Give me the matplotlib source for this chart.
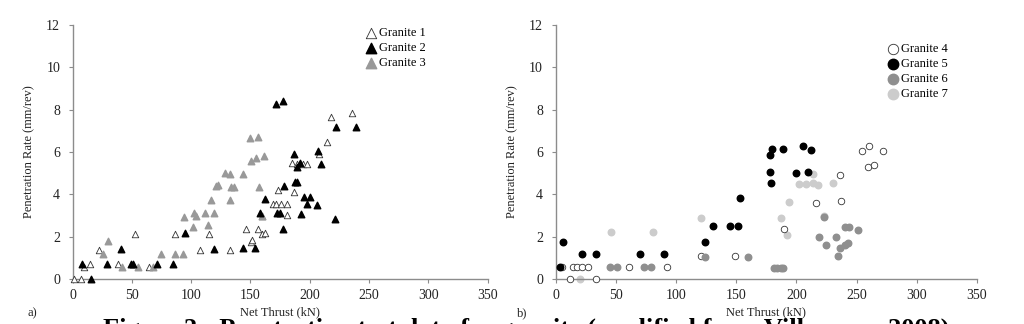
import matplotlib
matplotlib.use("Agg")
import matplotlib.pyplot as plt

plt.rcParams['font.family'] = ['Liberation Serif', 'DejaVu Serif']

# --- panel a) data (Net thrust kN, penetration rate mm/rev) ---
g1_x = [1, 7, 9.6, 14.3, 22.5, 38.5, 52.3, 64.7, 86.4, 107.2, 114.8, 132.5, 146.6, 150.2,
        151, 156.4, 160, 162.3, 159.8, 173.3, 168.8, 171.3, 176.1, 181.2, 180.9, 186.8,
        185.4, 189, 194, 197.5, 207.9, 214.9, 218.3, 236]
g1_y = [0, 0, 0.58, 0.69, 1.39, 0.69, 2.14, 0.58, 2.14, 1.39, 2.14, 1.39, 2.36, 1.77,
        1.83, 2.36, 2.14, 2.19, 3.0, 4.2, 3.56, 3.56, 3.56, 3.56, 3.03, 4.13,
        5.5, 5.42, 5.42, 5.42, 5.92, 6.47, 7.66, 7.84]

g2_x = [8.2, 15.2, 29.3, 41.1, 48.9, 50.9, 70.9, 84.4, 94.5, 119.3, 143.5, 153.9, 158.1,
        162.3, 171.6, 177.8, 178.3, 177.8, 172.7, 174.7, 186.8, 187.3, 189, 189.6, 191.6,
        194.9, 200.3, 198, 193, 206.2, 207.3, 209.6, 221.1, 222.5, 238.8]
g2_y = [0.69, 0, 0.69, 1.44, 0.69, 0.69, 0.69, 0.69, 2.17, 1.44, 1.47, 1.47, 3.11,
        3.8, 8.27, 8.39, 4.41, 2.36, 3.11, 3.14, 5.92, 4.59, 4.59, 5.31, 5.48,
        3.88, 3.88, 3.53, 3.08, 3.48, 6.05, 5.42, 2.84, 7.17, 7.17]

g3_x = [25.9, 29.5, 41.4, 55.4, 68.1, 74.3, 86.4, 92.8, 94.2, 101.8, 102.4, 104, 111.7,
        114.2, 116.7, 119.3, 121, 122.6, 128.6, 132.5, 132.5, 133.3, 136.1, 144, 149.4,
        150.8, 154.4, 156.1, 157.5, 161.2, 159.5]
g3_y = [1.17, 1.78, 0.58, 0.58, 0.58, 1.17, 1.17, 1.17, 2.95, 2.45, 3.13, 3.0, 3.11,
        2.53, 3.75, 3.11, 4.39, 4.45, 5.03, 4.95, 3.73, 4.36, 4.36, 4.95, 6.67,
        5.58, 5.73, 6.72, 4.36, 5.81, 3.0]

# --- panel b) data ---
g4_x = [5.1, 12, 14.8, 18.1, 22.3, 27.2, 33.3, 61, 92.3, 121, 149.2, 189.4, 216.4, 236.7,
        236.4, 254.4, 260.7, 272, 259.1, 264.1]
g4_y = [0.55, 0, 0.55, 0.55, 0.55, 0.55, 0, 0.55, 0.55, 1.09, 1.09, 2.36, 3.59, 3.67,
        4.91, 6.03, 6.28, 6.03, 5.30, 5.37]

g5_x = [3.7, 5.9, 22, 33.3, 70.4, 90, 123.8, 131, 145, 151.2, 152.9, 178.6, 177.7, 178.3,
        179.4, 189, 199.6, 205.4, 209.5, 212]
g5_y = [0.55, 1.76, 1.18, 1.18, 1.18, 1.18, 1.75, 2.49, 2.49, 2.52, 3.81, 4.52, 5.04, 5.84,
        6.13, 6.13, 4.99, 6.28, 5.05, 6.1]

g6_x = [45.2, 51.3, 73.4, 79, 124.1, 159.5, 181.3, 184.1, 186.9, 189, 219.2, 225, 223.1,
        232.8, 234.4, 236.4, 240.5, 242.7, 240.5, 243.3, 251.3]
g6_y = [0.55, 0.55, 0.55, 0.55, 1.05, 1.05, 0.52, 0.52, 0.52, 0.52, 1.97, 1.62, 2.91,
        1.97, 1.10, 1.48, 1.59, 1.72, 2.47, 2.47, 2.31]

g7_x = [20.3, 45.8, 81.2, 120.7, 187.1, 192.4, 193.8, 202.6, 207.9, 214, 214, 217.8,
        230.5, 223.1]
g7_y = [0, 2.2, 2.2, 2.87, 2.88, 2.06, 3.64, 4.47, 4.47, 4.52, 4.97, 4.42, 4.52, 2.98]

x_ticks = [0, 50, 100, 150, 200, 250, 300, 350]
y_ticks = [0, 2, 4, 6, 8, 10, 12]

W, H = 1024, 324
fig = plt.figure(figsize=(W / 100, H / 100), dpi=100)
ax1 = fig.add_axes([72.7 / W, 45 / H, 414.8 / W, 254 / H])
ax2 = fig.add_axes([555.5 / W, 45 / H, 421.5 / W, 254 / H])

spine_col = '#8c8c8c'
txt_col = '#222222'
for ax in (ax1, ax2):
    ax.set_xlim(0, 350)
    ax.set_ylim(0, 12)
    ax.set_xticks(x_ticks)
    ax.set_yticks(y_ticks)
    for s in ('top', 'right'):
        ax.spines[s].set_visible(False)
    for s in ('left', 'bottom'):
        ax.spines[s].set_color(spine_col)
        ax.spines[s].set_linewidth(1.0)
    ax.tick_params(axis='both', direction='out', length=3, width=0.8, color=spine_col,
                   labelsize=10, labelcolor=txt_col)
    ax.tick_params(axis='x', pad=4)
    ax.tick_params(axis='y', pad=6)
    ax.set_xlabel('Net Thrust (kN)', fontsize=9, color=txt_col, labelpad=3)
    ax.set_ylabel('Penetration Rate (mm/rev)', fontsize=9, color=txt_col, labelpad=8)
    ax.patch.set_alpha(0)

ms = 22
ax1.scatter(g1_x, g1_y, marker='^', s=ms, facecolors='white', edgecolors='#333333',
            linewidths=0.6, label='Granite 1', zorder=3, clip_on=False)
ax1.scatter(g2_x, g2_y, marker='^', s=ms, color='black', label='Granite 2', zorder=4, clip_on=False)
ax1.scatter(g3_x, g3_y, marker='^', s=ms, color='#999999', label='Granite 3', zorder=3, clip_on=False)

ax2.scatter(g4_x, g4_y, marker='o', s=ms, facecolors='white', edgecolors='#333333',
            linewidths=0.6, label='Granite 4', zorder=3, clip_on=False)
ax2.scatter(g5_x, g5_y, marker='o', s=ms, color='black', label='Granite 5', zorder=4, clip_on=False)
ax2.scatter(g6_x, g6_y, marker='o', s=ms, color='#8f8f8f', label='Granite 6', zorder=3, clip_on=False)
ax2.scatter(g7_x, g7_y, marker='o', s=ms, color='#cccccc', label='Granite 7', zorder=2, clip_on=False)

leg_kw = dict(frameon=False, fontsize=9, handletextpad=0.1, labelspacing=0.25,
              markerscale=1.6, borderaxespad=0, handlelength=1.2, loc='upper left')
ax1.legend(bbox_to_anchor=((358 - 72.7) / 414.8, (279 - 22) / 254), **leg_kw)
ax2.legend(bbox_to_anchor=((880 - 555.5) / 421.5, (279 - 38) / 254), **leg_kw)

fig.text(28 / W, 1 - 313 / H, 'a)', fontsize=9, va='center', ha='left', color=txt_col)
fig.text(517 / W, 1 - 313 / H, 'b)', fontsize=9, va='center', ha='left', color=txt_col)

fig.text(103 / W, 1 - 318 / H, 'Figure 2 - Penetration test data for granite (modified from Villeneuve 2008)',
         fontsize=19, fontweight='bold', va='top', ha='left')

fig.savefig('out.png', dpi=100)
